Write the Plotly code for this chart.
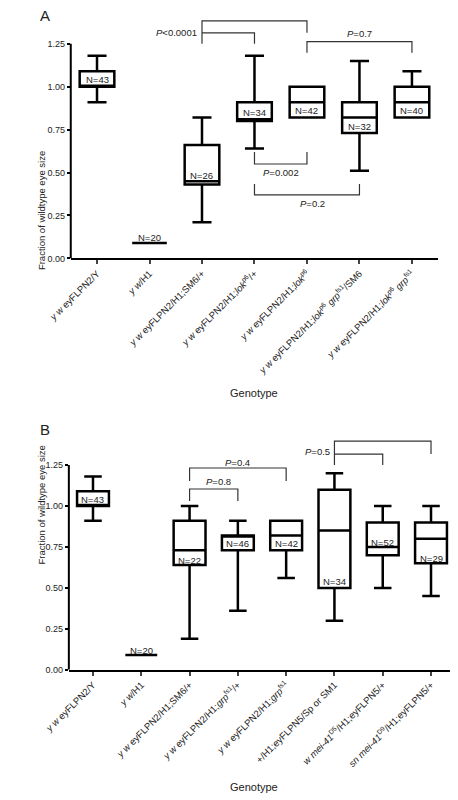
import plotly.graph_objects as go

# ---- panel A data ----
labels_a = ["<i>y w</i> eyFLPN2/Y", "<i>y w</i>/H1", "<i>y w</i> eyFLPN2/H1;SM6/+",
            "<i>y w</i> eyFLPN2/H1;<i>lok</i><sup>p6</sup>/+", "<i>y w</i> eyFLPN2/H1;<i>lok</i><sup>p6</sup>",
            "<i>y w</i> eyFLPN2/H1;<i>lok</i><sup>p6</sup> <i>grp</i><sup>fs1</sup>/SM6",
            "<i>y w</i> eyFLPN2/H1;<i>lok</i><sup>p6</sup> <i>grp</i><sup>fs1</sup>"]
low_a = [0.91, 0.09, 0.21, 0.64, 0.82, 0.51, 0.82]
q1_a = [1.00, 0.09, 0.43, 0.80, 0.82, 0.73, 0.82]
med_a = [1.00, 0.09, 0.45, 0.81, 0.91, 0.82, 0.91]
q3_a = [1.09, 0.09, 0.66, 0.91, 1.00, 0.91, 1.00]
high_a = [1.18, 0.09, 0.82, 1.18, 1.00, 1.15, 1.09]
n_a = [43, 20, 26, 34, 42, 32, 40]
n_pos_a = [1.04, 0.12, 0.48, 0.85, 0.86, 0.77, 0.86]

# ---- panel B data ----
labels_b = ["<i>y w</i> eyFLPN2/Y", "<i>y w</i>/H1", "<i>y w</i> eyFLPN2/H1;SM6/+",
            "<i>y w</i> eyFLPN2/H1;<i>grp</i><sup>fs1</sup>/+", "<i>y w</i> eyFLPN2/H1;<i>grp</i><sup>fs1</sup>",
            "+/H1;eyFLPN5/Sp or SM1", "<i>w mei-41</i><sup>D5</sup>/H1;eyFLPN5/+",
            "<i>sn mei-41</i><sup>D9</sup>/H1;eyFLPN5/+"]
low_b = [0.91, 0.09, 0.19, 0.36, 0.56, 0.30, 0.50, 0.45]
q1_b = [1.00, 0.09, 0.64, 0.73, 0.73, 0.50, 0.70, 0.65]
med_b = [1.00, 0.09, 0.73, 0.82, 0.82, 0.85, 0.75, 0.80]
q3_b = [1.09, 0.09, 0.91, 0.82, 0.91, 1.10, 0.90, 0.90]
high_b = [1.18, 0.09, 1.00, 0.91, 0.91, 1.20, 1.00, 1.00]
n_b = [43, 20, 22, 46, 42, 34, 52, 29]
n_pos_b = [1.04, 0.12, 0.67, 0.77, 0.77, 0.54, 0.78, 0.68]

# significance brackets: (x list, y list, label, label x, label y, anchor)
brackets_a = [
    ([2, 2, 4, 4], [1.25, 1.383, 1.383, 1.314], "<i>P</i><0.0001", 1.95, 1.314, "right"),
    ([2, 3, 3], [1.314, 1.314, 1.25], None, 0, 0, None),
    ([4, 4, 6, 6], [1.198, 1.262, 1.262, 1.198], "<i>P</i>=0.7", 5, 1.31, "center"),
    ([3, 3, 4, 4], [0.62, 0.55, 0.55, 0.62], "<i>P</i>=0.002", 3.5, 0.50, "center"),
    ([3, 3, 5, 5], [0.434, 0.37, 0.37, 0.434], "<i>P</i>=0.2", 4.1, 0.32, "center"),
]
brackets_b = [
    ([5, 5, 7, 7], [1.25, 1.396, 1.396, 1.317], "<i>P</i>=0.5", 4.95, 1.33, "right"),
    ([5, 6, 6], [1.317, 1.317, 1.25], None, 0, 0, None),
    ([2, 2, 4, 4], [1.153, 1.232, 1.232, 1.153], "<i>P</i>=0.4", 3, 1.265, "center"),
    ([2, 2, 3, 3], [1.03, 1.104, 1.104, 1.03], "<i>P</i>=0.8", 2.6, 1.15, "center"),
]

FONT = "Liberation Sans, Arial, sans-serif"
fig = go.Figure()


def add_panel(fig, xa, ya, labels, low, q1, med, q3, high, ns, npos, brackets):
    for i in range(len(labels)):
        fig.add_trace(go.Box(x=[i], q1=[q1[i]], median=[med[i]], q3=[q3[i]],
                             lowerfence=[low[i]], upperfence=[high[i]],
                             width=0.66, whiskerwidth=0.55, fillcolor="white",
                             line=dict(color="black", width=2.5),
                             xaxis=xa, yaxis=ya, showlegend=False, hoverinfo="skip"))
        fig.add_annotation(x=i, y=npos[i], text="N=%d" % ns[i], showarrow=False,
                           xref=xa, yref=ya, font=dict(size=9.5, color="#222"))
    for bx, by, txt, tx, ty, anc in brackets:
        fig.add_trace(go.Scatter(x=bx, y=by, mode="lines", line=dict(color="#333", width=1.2),
                                 xaxis=xa, yaxis=ya, showlegend=False, hoverinfo="skip"))
        if txt:
            fig.add_annotation(x=tx, y=ty, text=txt, showarrow=False, xanchor=anc,
                               xref=xa, yref=ya, font=dict(size=9.5, color="#222"))
    fig.add_shape(type="line", xref=xa + " domain", yref=ya, x0=0, x1=0, y0=0, y1=1.25,
                  line=dict(color="black", width=2))


add_panel(fig, "x", "y", labels_a, low_a, q1_a, med_a, q3_a, high_a, n_a, n_pos_a, brackets_a)
add_panel(fig, "x2", "y2", labels_b, low_b, q1_b, med_b, q3_b, high_b, n_b, n_pos_b, brackets_b)

xcommon = dict(showline=True, linecolor="black", linewidth=2, ticks="outside", ticklen=4,
               tickwidth=2, tickangle=-45, showgrid=False, zeroline=False,
               tickfont=dict(size=9.5, color="#222"))
ycommon = dict(showline=False, ticks="outside", ticklen=3, tickwidth=2, tickcolor="black",
               showgrid=False, zeroline=False, tickvals=[0, 0.25, 0.5, 0.75, 1.0, 1.25],
               tickformat=".2f", tickfont=dict(size=9, color="#222"))

fig.update_layout(
    width=450, height=792, margin=dict(l=0, r=0, t=0, b=0),
    plot_bgcolor="white", paper_bgcolor="white", font=dict(family=FONT, color="#222"),
    xaxis=dict(xcommon, domain=[0.0867, 0.9533], range=[-0.5, 6.5],
               tickvals=list(range(len(labels_a))), ticktext=labels_a, anchor="y"),
    yaxis=dict(ycommon, domain=[0.6818, 0.9912], range=[0, 1.418], anchor="x"),
    xaxis2=dict(xcommon, domain=[0.0822, 0.9933], range=[-0.5, 7.5],
                tickvals=list(range(len(labels_b))), ticktext=labels_b, anchor="y2"),
    yaxis2=dict(ycommon, domain=[0.1591, 0.4672], range=[0, 1.4806], anchor="x2"),
)

for txt, x, y, size in [("A", 0.009, 0.99, 15), ("B", 0.009, 0.465, 15),
                        ("Genotype", 0.52, 0.5114, 11), ("Genotype", 0.52, 0.0101, 11)]:
    fig.add_annotation(x=x, y=y, xref="paper", yref="paper", text=txt, showarrow=False,
                       xanchor="left" if size == 15 else "center", yanchor="middle",
                       font=dict(size=size))
for y in [0.8207, 0.2904]:
    fig.add_annotation(x=0.0, y=y, xref="paper", yref="paper", text="Fraction of wildtype eye size",
                       textangle=-90, showarrow=False, xanchor="left", font=dict(size=9.5))

fig.write_html("out.html")
